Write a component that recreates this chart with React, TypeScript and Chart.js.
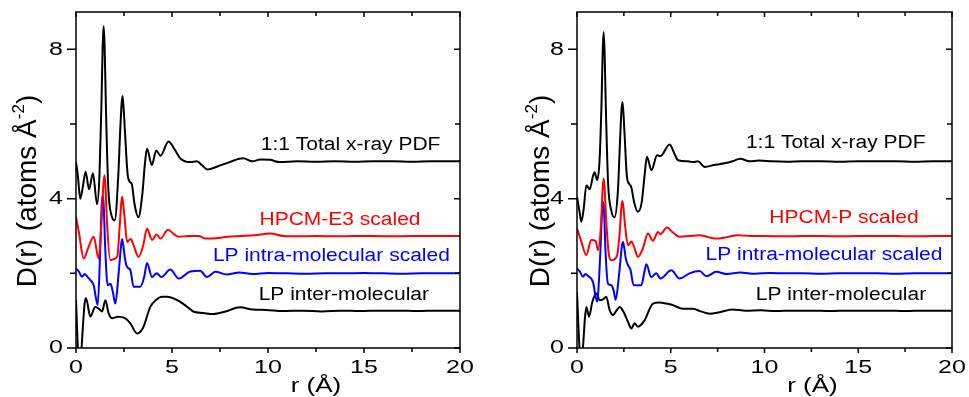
import React, { useEffect, useRef } from "react";
import { Chart, registerables } from "chart.js";
Chart.register(...registerables);

// ---------- DATA (r in Å, D(r) in atoms Å^-2) ----------
const xTicksMajor = [0, 5, 10, 15, 20];
const xTicksMinor = [2.5, 7.5, 12.5, 17.5];
const yTicksMajor = [0, 4, 8];
const yTicksMinor = [2, 6];

// Left panel (HPCM-E3)
const leftTotalR = [0, 0.1, 0.22, 0.35, 0.5, 0.68, 0.88, 1.1, 1.22, 1.32, 1.39, 1.44, 1.49, 1.56, 1.68, 1.85, 2.02, 2.2, 2.3, 2.37, 2.42, 2.47, 2.55, 2.68, 2.8, 2.9, 3.05, 3.25, 3.45, 3.6, 3.7, 3.95, 4.18, 4.4, 4.82, 5.1, 5.45, 5.95, 6.3, 6.55, 6.85, 7.4, 8.0, 8.7, 9.2, 9.6, 10.1, 10.6, 11.5, 12.5, 13.5, 14.5, 15.5, 16.5, 17.5, 18.5, 19.5, 20];
const leftTotalD = [4.98, 4.6, 4.0, 4.3, 4.72, 4.25, 4.68, 3.85, 4.6, 6.4, 8.1, 8.62, 8.1, 6.4, 4.3, 3.55, 3.42, 4.6, 5.8, 6.5, 6.75, 6.5, 5.8, 4.7, 4.45, 4.4, 3.85, 3.5, 4.1, 5.0, 5.34, 4.9, 5.29, 5.15, 5.53, 5.35, 5.07, 4.98, 5.0, 4.9, 4.78, 4.87, 4.98, 5.08, 5.0, 5.05, 5.04, 4.98, 5.0, 4.99, 5.0, 4.99, 5.0, 5.0, 4.99, 5.0, 5.0, 5.0];

const leftHpcmR = [0, 0.15, 0.4, 0.65, 0.92, 1.18, 1.32, 1.43, 1.48, 1.53, 1.62, 1.79, 1.95, 2.15, 2.28, 2.36, 2.4, 2.45, 2.53, 2.66, 2.85, 3.0, 3.26, 3.5, 3.7, 3.96, 4.2, 4.4, 4.79, 5.1, 5.35, 5.87, 6.4, 6.74, 7.3, 7.9, 8.6, 9.3, 10.1, 10.8, 11.6, 12.5, 13.5, 14.5, 15.5, 16.5, 17.5, 18.5, 19.5, 20];
const leftHpcmD = [3.51, 3.1, 2.4, 2.7, 2.98, 2.4, 3.3, 4.4, 4.63, 4.4, 3.3, 2.35, 2.38, 2.45, 3.3, 3.9, 4.05, 3.9, 3.5, 2.84, 2.92, 2.75, 2.44, 2.75, 3.2, 2.89, 3.04, 2.93, 3.17, 3.05, 2.98, 3.0, 3.0, 2.93, 2.94, 2.98, 3.0, 3.02, 3.07, 3.0, 2.99, 3.0, 2.99, 3.0, 3.0, 2.99, 3.0, 3.0, 3.0, 3.0];

const leftIntraR = [0, 0.15, 0.31, 0.45, 0.57, 0.75, 0.92, 1.13, 1.26, 1.34, 1.39, 1.44, 1.52, 1.65, 1.8, 1.92, 2.05, 2.22, 2.36, 2.4, 2.45, 2.55, 2.66, 2.83, 3.0, 3.35, 3.55, 3.7, 3.96, 4.2, 4.45, 4.91, 5.35, 5.95, 6.47, 6.82, 7.26, 7.85, 8.5, 9.2, 10, 11, 12, 13, 14, 15, 16, 17, 18, 19, 20];
const leftIntraD = [2.13, 2.05, 1.91, 1.98, 1.92, 1.82, 1.68, 1.15, 2.6, 3.85, 4.09, 3.85, 2.7, 1.68, 1.72, 1.5, 1.19, 2.0, 2.8, 2.91, 2.8, 2.4, 2.17, 2.09, 1.64, 1.64, 1.9, 2.28, 1.9, 2.0, 1.9, 2.1, 1.86, 2.05, 2.07, 1.9, 2.04, 1.97, 2.02, 1.98, 2.01, 2.0, 1.99, 2.0, 2.0, 2.01, 2.0, 1.99, 2.0, 2.0, 2.0];

const leftInterR = [0, 0.08, 0.15, 0.25, 0.35, 0.45, 0.52, 0.75, 1.0, 1.2, 1.36, 1.53, 1.7, 1.9, 2.2, 2.55, 2.83, 3.18, 3.5, 3.87, 4.2, 4.48, 4.74, 5.35, 5.8, 6.13, 6.6, 7.15, 7.8, 8.54, 9.2, 9.9, 10.8, 11.8, 12.8, 13.8, 14.8, 15.8, 16.8, 17.8, 18.8, 19.8, 20];
const leftInterD = [1.3, 0.2, -0.5, -0.3, 0.5, 1.2, 1.33, 0.84, 1.1, 1.05, 0.98, 1.28, 0.93, 0.8, 0.84, 0.8, 0.66, 0.39, 0.55, 1.1, 1.3, 1.37, 1.37, 1.26, 1.1, 0.97, 0.94, 0.91, 0.98, 1.09, 1.03, 1.02, 0.99, 1.0, 0.98, 1.0, 0.99, 1.0, 1.0, 0.99, 1.0, 1.0, 1.0];

// Right panel (HPCM-P)
const rightTotalR = [0, 0.12, 0.23, 0.35, 0.5, 0.68, 0.85, 0.94, 1.07, 1.2, 1.31, 1.37, 1.42, 1.47, 1.54, 1.66, 1.82, 2.0, 2.18, 2.3, 2.37, 2.42, 2.47, 2.54, 2.66, 2.78, 2.9, 3.05, 3.25, 3.45, 3.6, 3.73, 3.97, 4.27, 4.45, 4.94, 5.2, 5.39, 5.92, 6.2, 6.45, 6.81, 7.3, 7.8, 8.3, 8.7, 9.2, 9.7, 10.4, 11.2, 12, 13, 14, 15, 16, 17, 18, 19, 20];
const rightTotalD = [4.05, 3.7, 3.38, 3.7, 4.36, 4.25, 4.6, 4.71, 4.5, 5.0, 6.6, 7.95, 8.46, 7.95, 6.4, 4.4, 3.7, 3.5, 4.2, 5.6, 6.35, 6.59, 6.35, 5.7, 4.6, 4.4, 4.3, 3.9, 3.65, 3.9, 4.6, 5.12, 4.76, 5.16, 5.14, 5.45, 5.2, 5.03, 5.0, 4.98, 5.0, 4.85, 4.9, 4.94, 5.0, 5.07, 5.0, 5.02, 5.0, 4.99, 5.0, 5.0, 4.99, 5.0, 5.0, 5.0, 4.99, 5.0, 5.0];

const rightHpcmR = [0, 0.2, 0.5, 0.76, 0.99, 1.12, 1.28, 1.37, 1.42, 1.47, 1.56, 1.7, 1.83, 2.0, 2.15, 2.28, 2.37, 2.42, 2.47, 2.56, 2.72, 2.9, 3.05, 3.25, 3.5, 3.79, 4.05, 4.32, 4.45, 4.8, 5.1, 5.47, 6.0, 6.54, 7.0, 7.43, 8.0, 8.6, 9.3, 10, 11, 12, 13, 14, 15, 16, 17, 18, 19, 20];
const rightHpcmD = [3.2, 2.9, 2.49, 2.89, 2.87, 2.62, 3.3, 4.3, 4.54, 4.3, 3.4, 2.5, 2.35, 2.38, 2.5, 3.1, 3.8, 3.94, 3.8, 3.3, 2.75, 2.85, 2.7, 2.44, 2.65, 3.07, 2.87, 3.11, 3.05, 3.23, 3.1, 2.98, 3.0, 3.02, 2.97, 2.93, 2.97, 3.02, 3.0, 3.0, 2.99, 3.0, 3.0, 2.99, 3.0, 3.0, 3.0, 2.99, 3.0, 3.0];

const rightIntraR = [0, 0.15, 0.32, 0.45, 0.59, 0.85, 1.07, 1.24, 1.34, 1.39, 1.44, 1.52, 1.65, 1.83, 1.95, 2.06, 2.25, 2.4, 2.45, 2.5, 2.6, 2.72, 2.85, 3.02, 3.43, 3.58, 3.7, 3.96, 4.23, 4.45, 5.03, 5.47, 6.0, 6.54, 6.9, 7.43, 8.0, 8.7, 9.5, 10.3, 11.2, 12, 13, 14, 15, 16, 17, 18, 19, 20];
const rightIntraD = [2.13, 2.05, 1.91, 1.98, 1.93, 1.77, 1.24, 2.5, 3.7, 3.91, 3.7, 2.6, 1.73, 1.68, 1.55, 1.29, 2.0, 2.75, 2.84, 2.75, 2.4, 2.22, 2.1, 1.68, 1.68, 2.0, 2.24, 1.9, 2.0, 1.86, 2.08, 1.86, 2.0, 2.06, 1.92, 2.04, 1.98, 2.02, 1.99, 2.01, 2.0, 2.0, 1.99, 2.0, 2.0, 2.0, 1.99, 2.0, 2.0, 2.0];

const rightInterR = [0, 0.1, 0.2, 0.3, 0.43, 0.5, 0.64, 0.82, 1.03, 1.21, 1.38, 1.56, 1.74, 1.92, 2.1, 2.28, 2.5, 2.72, 2.9, 3.07, 3.25, 3.6, 4.05, 4.41, 4.76, 5.1, 5.65, 6.19, 6.6, 7.08, 7.6, 8.3, 9.0, 9.8, 10.6, 11.5, 12.5, 13.5, 14.5, 15.5, 16.5, 17.5, 18.5, 19.5, 20];
const rightInterD = [1.5, 0.3, -0.4, -0.1, 0.84, 1.1, 0.84, 1.24, 1.46, 1.28, 1.3, 1.37, 1.02, 0.88, 1.0, 1.1, 0.95, 0.7, 0.52, 0.66, 0.57, 0.74, 1.19, 1.22, 1.19, 1.15, 1.05, 1.05, 0.98, 0.92, 0.96, 1.03, 1.0, 1.01, 0.99, 1.0, 1.0, 0.99, 1.0, 1.0, 1.0, 0.99, 1.0, 1.0, 1.0];

const leftLabels = ["1:1 Total x-ray PDF", "HPCM-E3 scaled", "LP intra-molecular scaled", "LP inter-molecular"];
const rightLabels = ["1:1 Total x-ray PDF", "HPCM-P scaled", "LP intra-molecular scaled", "LP inter-molecular"];
// label anchor positions in data units (r, D)
const leftLabelR = [14.3, 13.75, 13.3, 13.95];
const leftLabelD = [5.43, 3.42, 2.46, 1.42];
const rightLabelR = [13.8, 14.24, 13.17, 14.08];
const rightLabelD = [5.48, 3.48, 2.49, 1.42];

const xTitle = "r (Å)";
const yTitleMain = "D(r) (atoms Å";
const yTitleSup = "-2";
const yTitleEnd = ")";

// ---------- STYLE ----------
const FONT = '"Liberation Sans", Arial, Helvetica, sans-serif';
const COLORS = ["#000000", "#ff0000", "#0000ff", "#000000"];

function pts(r: number[], d: number[]) {
  return r.map((x, i) => ({ x, y: d[i] }));
}

function sqText(ctx: CanvasRenderingContext2D, text: string, x: number, y: number, size: number, align: CanvasTextAlign, sy: number, color: string) {
  ctx.save();
  ctx.translate(x, y);
  ctx.scale(1, sy);
  ctx.font = `${size}px ${FONT}`;
  ctx.textAlign = align;
  ctx.textBaseline = "middle";
  ctx.fillStyle = color;
  ctx.fillText(text, 0, 0);
  ctx.restore();
}

type PanelProps = {
  left: number;
  width: number;
  pad: { left: number; right: number; top: number; bottom: number };
  series: { r: number[]; d: number[] }[];
  labels: string[];
  labelR: number[];
  labelD: number[];
  yTitleX: number;
};

function Panel(p: PanelProps) {
  const ref = useRef<HTMLCanvasElement | null>(null);
  useEffect(() => {
    if (!ref.current) return;
    const decor = {
      id: "decor",
      afterDatasetsDraw(chart: any) {
        const ctx: CanvasRenderingContext2D = chart.ctx;
        const xs = chart.scales.x;
        const ys = chart.scales.y;
        const a = chart.chartArea;
        ctx.save();
        ctx.strokeStyle = "#000";
        ctx.lineWidth = 1.5;
        ctx.strokeRect(a.left, a.top, a.right - a.left, a.bottom - a.top);
        ctx.beginPath();
        const xt = (v: number, len: number) => {
          const px = xs.getPixelForValue(v);
          ctx.moveTo(px, a.bottom);
          ctx.lineTo(px, a.bottom + len);
          ctx.moveTo(px, a.top);
          ctx.lineTo(px, a.top + len);
        };
        const yt = (v: number, lenOut: number, lenIn: number) => {
          const py = ys.getPixelForValue(v);
          ctx.moveTo(a.left, py);
          ctx.lineTo(a.left - lenOut, py);
          ctx.moveTo(a.right, py);
          ctx.lineTo(a.right - lenIn, py);
        };
        xTicksMajor.forEach((v) => xt(v, 5));
        xTicksMinor.forEach((v) => xt(v, 4));
        yTicksMajor.forEach((v) => yt(v, 9, 6));
        yTicksMinor.forEach((v) => yt(v, 6, 5));
        ctx.stroke();
        ctx.restore();

        // tick labels
        xTicksMajor.forEach((v) => sqText(ctx, String(v), xs.getPixelForValue(v), a.bottom + 20, 25, "center", 0.75, "#000"));
        yTicksMajor.forEach((v) => sqText(ctx, String(v), a.left - 13, ys.getPixelForValue(v), 25, "right", 0.75, "#000"));

        // x title
        sqText(ctx, xTitle, (a.left + a.right) / 2 + 48, a.bottom + 38, 26, "center", 0.8, "#000");

        // y title (rotated)
        ctx.save();
        const cy = (a.top + a.bottom) / 2 + 11;
        ctx.translate(p.yTitleX, cy);
        ctx.rotate(-Math.PI / 2);
        ctx.fillStyle = "#000";
        ctx.textBaseline = "alphabetic";
        ctx.textAlign = "left";
        ctx.font = `28px ${FONT}`;
        const w1 = ctx.measureText(yTitleMain).width;
        const w3 = ctx.measureText(yTitleEnd).width;
        ctx.font = `17px ${FONT}`;
        const w2 = ctx.measureText(yTitleSup).width;
        const x0 = -(w1 + w2 + w3) / 2;
        ctx.font = `28px ${FONT}`;
        ctx.fillText(yTitleMain, x0, 0);
        ctx.font = `17px ${FONT}`;
        ctx.fillText(yTitleSup, x0 + w1, -12);
        ctx.font = `28px ${FONT}`;
        ctx.fillText(yTitleEnd, x0 + w1 + w2, 0);
        ctx.restore();

        // annotations
        p.labels.forEach((t, i) =>
          sqText(ctx, t, xs.getPixelForValue(p.labelR[i]), ys.getPixelForValue(p.labelD[i]), 21, "center", 0.86, COLORS[i])
        );
      },
    };
    const chart = new Chart(ref.current, {
      type: "line",
      data: {
        datasets: p.series.map((s, i) => ({
          data: pts(s.r, s.d),
          borderColor: COLORS[i],
          backgroundColor: COLORS[i],
          borderWidth: 2,
          pointRadius: 0,
          fill: false,
          cubicInterpolationMode: "monotone" as const,
        })),
      },
      options: {
        animation: false,
        responsive: false,
        devicePixelRatio: 1,
        layout: { padding: p.pad },
        plugins: { legend: { display: false }, tooltip: { enabled: false } },
        scales: {
          x: { type: "linear", min: 0, max: 20, display: false },
          y: { type: "linear", min: 0, max: 9, display: false },
        },
      },
      plugins: [decor],
    });
    return () => chart.destroy();
  }, []);
  return (
    <canvas
      ref={ref}
      width={p.width}
      height={397}
      style={{ position: "absolute", left: p.left, top: 0, width: p.width, height: 397 }}
    />
  );
}

export default function App() {
  return (
    <div style={{ position: "absolute", left: 0, top: 0, width: 969, height: 397, background: "#fff", overflow: "hidden" }}>
      <Panel
        left={0}
        width={480}
        pad={{ left: 76, right: 20, top: 12, bottom: 49 }}
        series={[
          { r: leftTotalR, d: leftTotalD },
          { r: leftHpcmR, d: leftHpcmD },
          { r: leftIntraR, d: leftIntraD },
          { r: leftInterR, d: leftInterD },
        ]}
        labels={leftLabels}
        labelR={leftLabelR}
        labelD={leftLabelD}
        yTitleX={36}
      />
      <Panel
        left={480}
        width={489}
        pad={{ left: 97, right: 17, top: 12, bottom: 49 }}
        series={[
          { r: rightTotalR, d: rightTotalD },
          { r: rightHpcmR, d: rightHpcmD },
          { r: rightIntraR, d: rightIntraD },
          { r: rightInterR, d: rightInterD },
        ]}
        labels={rightLabels}
        labelR={rightLabelR}
        labelD={rightLabelD}
        yTitleX={69}
      />
    </div>
  );
}
